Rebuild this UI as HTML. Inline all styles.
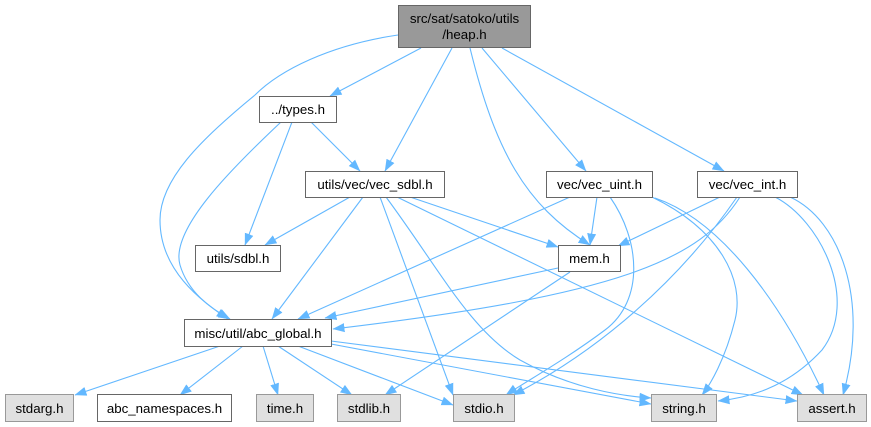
<!DOCTYPE html>
<html><head><meta charset="utf-8"><style>
html,body{margin:0;padding:0;background:#fff;}
svg{display:block;}
text{font-family:"Liberation Sans",Arial,sans-serif;font-size:13.3px;fill:#000;}
</style></head><body>
<svg width="871" height="427" viewBox="0 0 871 427" xmlns="http://www.w3.org/2000/svg">
<defs>
<marker id="a" markerWidth="12" markerHeight="10" refX="11.5" refY="5" orient="auto" markerUnits="userSpaceOnUse">
<path d="M0,0.5 L12,5 L0,9.5 z" fill="#63b8ff"/>
</marker>
</defs>
<g fill="none" stroke="#63b8ff" stroke-width="1.1" marker-end="url(#a)">
<path d="M421,48 L330,96"/>
<path d="M398,35 C330,45 280,70 255,95 C200,140 160,180 160,220 C160,270 200,300 228,319"/>
<path d="M452,48 L385,171"/>
<path d="M470,48 C495,150 525,205 590,245"/>
<path d="M482,48 L586,171"/>
<path d="M502,48 L724,171"/>
<path d="M311,122 L360,171"/>
<path d="M292,122 L245,245"/>
<path d="M281,122 C230,170 170,230 180,265 C188,292 210,308 230,319"/>
<path d="M350,197 L265,245"/>
<path d="M363,197 L272,319"/>
<path d="M410,197 L558,247"/>
<path d="M380,197 L453,395"/>
<path d="M386,197 C440,270 470,330 520,360 C570,388 620,396 651,398"/>
<path d="M397,197 L803,395"/>
<path d="M570,197 L298,319"/>
<path d="M597,197 L590,245"/>
<path d="M610,197 C640,240 645,300 605,330 C565,360 525,382 506,395"/>
<path d="M652,197 C720,230 745,280 735,320 C725,360 710,385 702,395"/>
<path d="M655,198 C720,220 780,300 824,395"/>
<path d="M720,197 L618,246"/>
<path d="M740,197 C700,260 620,295 333,329"/>
<path d="M737,197 C680,280 600,350 513,395"/>
<path d="M775,197 C820,220 860,300 822,350 C785,390 745,398 718,401"/>
<path d="M790,197 C840,220 870,300 843,395"/>
<path d="M558,268 L325,318"/>
<path d="M570,272 L385,395"/>
<path d="M220,346 L75,395"/>
<path d="M243,346 L180,395"/>
<path d="M263,346 L278,395"/>
<path d="M278,346 L352,395"/>
<path d="M298,346 L453,405"/>
<path d="M331,344 L651,404"/>
<path d="M331,341 L797,401"/>
</g>
<g stroke="#666" stroke-width="1">
<rect x="398.5" y="5.5" width="132" height="42" fill="#999"/>
<rect x="259.5" y="96.5" width="77" height="26" fill="#fff"/>
<rect x="305.5" y="171.5" width="139" height="26" fill="#fff"/>
<rect x="546.5" y="171.5" width="106" height="26" fill="#fff"/>
<rect x="697.5" y="171.5" width="100" height="26" fill="#fff"/>
<rect x="195.5" y="245.5" width="85" height="26" fill="#fff"/>
<rect x="558.5" y="245.5" width="62" height="26" fill="#fff"/>
<rect x="184.5" y="319.5" width="147" height="27" fill="#fff"/>
<rect x="97.5" y="394.5" width="134" height="27" fill="#fff"/>
</g>
<g stroke="#999" stroke-width="1" fill="#e0e0e0">
<rect x="5.5" y="394.5" width="68" height="27"/>
<rect x="256.5" y="394.5" width="57" height="27"/>
<rect x="337.5" y="394.5" width="63" height="27"/>
<rect x="453.5" y="394.5" width="61" height="27"/>
<rect x="651.5" y="394.5" width="65" height="27"/>
<rect x="797.5" y="394.5" width="69" height="27"/>
</g>
<g text-anchor="middle">
<text x="464.5" y="23">src/sat/satoko/utils</text>
<text x="464.5" y="39">/heap.h</text>
<text x="298" y="114">../types.h</text>
<text x="375" y="189">utils/vec/vec_sdbl.h</text>
<text x="599.5" y="189">vec/vec_uint.h</text>
<text x="747.5" y="189">vec/vec_int.h</text>
<text x="238" y="263">utils/sdbl.h</text>
<text x="589.5" y="263">mem.h</text>
<text x="258" y="338">misc/util/abc_global.h</text>
<text x="39.5" y="413">stdarg.h</text>
<text x="164.5" y="413">abc_namespaces.h</text>
<text x="285" y="413">time.h</text>
<text x="369" y="413">stdlib.h</text>
<text x="484" y="413">stdio.h</text>
<text x="684" y="413">string.h</text>
<text x="832" y="413">assert.h</text>
</g>
</svg>
</body></html>
